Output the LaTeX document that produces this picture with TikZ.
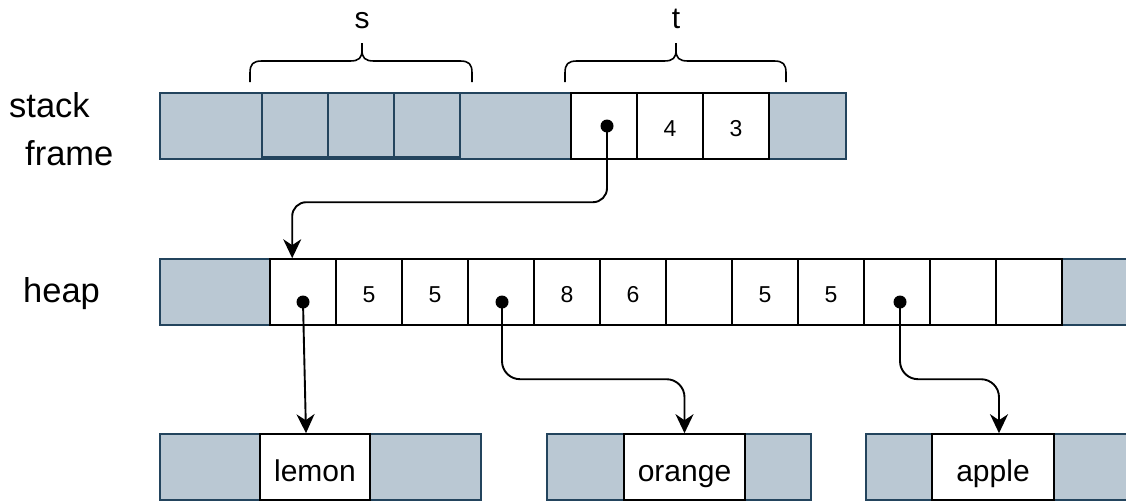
\documentclass[tikz,border=0pt]{standalone}
\usepackage{fontspec}
\setmainfont{Liberation Sans}
\usetikzlibrary{arrows.meta,calc}
\definecolor{gfill}{HTML}{BAC8D3}
\definecolor{gstroke}{HTML}{23445D}
\tikzset{
  gblk/.style={draw=gstroke, fill=gfill, line width=1.5pt, inner sep=0pt, minimum height=66pt},
  cell/.style={draw=black, fill=white, line width=1.6pt, inner sep=0pt, minimum width=66pt, minimum height=66pt,
    font=\fontsize{23}{23}\selectfont, text height=21pt, text depth=0pt},
  scell/.style={draw=gstroke, fill=gfill, line width=1.6pt, inner sep=0pt, minimum width=66pt, minimum height=64pt},
  wcell/.style={draw=black, fill=white, line width=1.6pt, inner sep=0pt, minimum height=66pt,
    font=\fontsize{30}{30}\selectfont, text height=28pt, text depth=0pt},
  dotnode/.style={circle, fill=black, inner sep=0pt, minimum size=13pt},
  conn/.style={draw=black, line width=1.9pt, -{Stealth[length=19pt,width=18pt,inset=6pt]}},
  brace/.style={draw=black, line width=1.6pt},
  lbl/.style={font=\fontsize{30}{30}\selectfont, inner sep=0pt},
  biglbl/.style={font=\fontsize{34.5}{34.5}\selectfont, inner sep=0pt}
}
\begin{document}
\begin{tikzpicture}[x=1pt,y=-1pt]
\useasboundingbox (0,0) rectangle (1126,501);
\clip (0,0) rectangle (1126,501);
% labels
\node[biglbl, anchor=base west] (lstack) at (9,117) {stack};
\node[biglbl, anchor=base west] (lframe) at (25,165) {frame};
\node[biglbl, anchor=base west] (lheap) at (23,302) {heap};
\node[lbl, anchor=base] (ls) at (362,28) {s};
\node[lbl, anchor=base] (lt) at (676,28) {t};
% braces
\draw[brace] (250,82) -- (250,73) .. controls (250,64) and (253,61) .. (262,61) -- (350,61)
  .. controls (359,61) and (362,58) .. (362,50) -- (362,43) -- (362,50)
  .. controls (362,58) and (365,61) .. (374,61) -- (460,61)
  .. controls (469,61) and (472,64) .. (472,73) -- (472,82);
\draw[brace] (565,82) -- (565,73) .. controls (565,64) and (568,61) .. (577,61) -- (664,61)
  .. controls (673,61) and (676,58) .. (676,50) -- (676,43) -- (676,50)
  .. controls (676,58) and (679,61) .. (688,61) -- (774,61)
  .. controls (783,61) and (786,64) .. (786,73) -- (786,82);
% stack frame
\node[gblk, minimum width=686pt] (sg) at (503,126) {};
\node[scell] (s1) at (295,125) {};
\node[scell] (s2) at (361,125) {};
\node[scell] (s3) at (427,125) {};
\node[cell] (t1) at (604,126) {};
\node[cell] (t2) at (670,126) {4};
\node[cell] (t3) at (736,126) {3};
% heap
\node[gblk, minimum width=110pt] (hgl) at (215,292) {};
\node[gblk, minimum width=78pt] (hgr) at (1101,292) {};
\node[cell] (h1) at (303,292) {};
\node[cell] (h2) at (369,292) {5};
\node[cell] (h3) at (435,292) {5};
\node[cell] (h4) at (501,292) {};
\node[cell] (h5) at (567,292) {8};
\node[cell] (h6) at (633,292) {6};
\node[cell] (h7) at (699,292) {};
\node[cell] (h8) at (765,292) {5};
\node[cell] (h9) at (831,292) {5};
\node[cell] (h10) at (897,292) {};
\node[cell] (h11) at (963,292) {};
\node[cell] (h12) at (1029,292) {};
% strings
\node[gblk, minimum width=321pt] (lg) at (320.5,467) {};
\node[wcell, minimum width=110pt] (lw) at (315,467) {lemon};
\node[gblk, minimum width=264pt] (og) at (679,467) {};
\node[wcell, minimum width=121pt] (ow) at (684.5,467) {orange};
\node[gblk, minimum width=274pt] (ag) at (1003,467) {};
\node[wcell, minimum width=122pt] (aw) at (993,467) {apple};
% dots
\coordinate (sd) at (607,126);
\coordinate (d1) at (303,302);
\coordinate (d4) at (502,302);
\coordinate (d10) at (900,302);
% connectors
\draw[conn, rounded corners=14pt] (sd) |- ($(h1.north west)+(23,-56)$) -- ($(h1.north west)+(23,0)$);
\draw[conn] (d1) -- ($(lw.north)+(-9,0)$);
\draw[conn, rounded corners=18pt] (d4) |- ($(ow.north)+(0,-54)$) -- (ow.north);
\draw[conn, rounded corners=18pt] (d10) |- ($(aw.north)+(6,-54)$) -- ($(aw.north)+(6,0)$);
\node[dotnode] (sdn) at (sd) {};
\node[dotnode] (d1n) at (d1) {};
\node[dotnode] (d4n) at (d4) {};
\node[dotnode] (d10n) at (d10) {};
\end{tikzpicture}
\end{document}
